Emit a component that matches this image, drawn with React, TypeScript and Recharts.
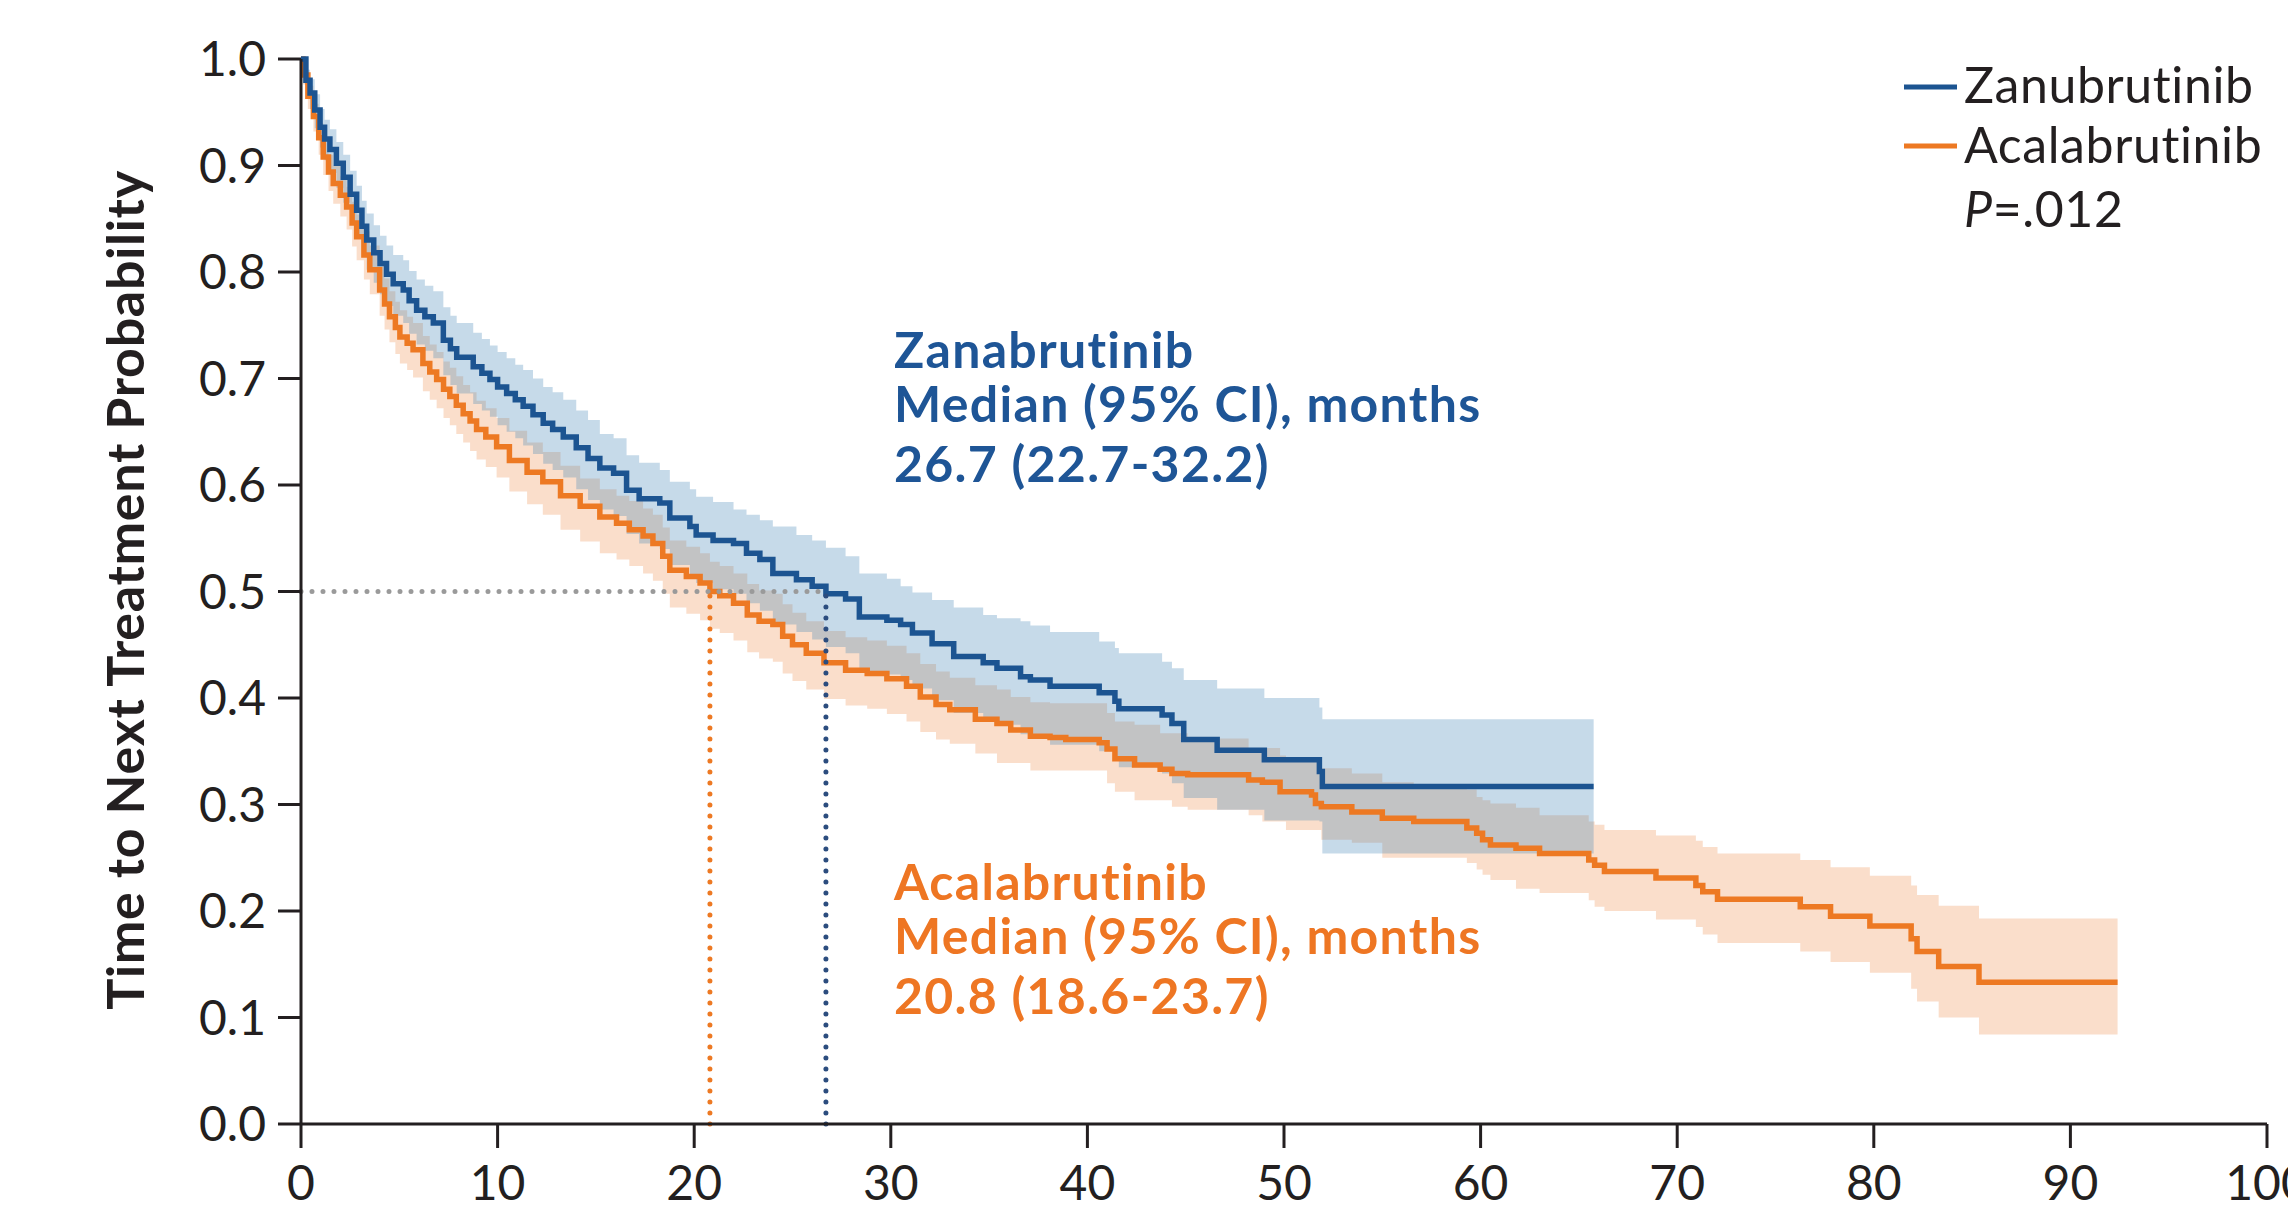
import React from 'react';
import {
  ComposedChart,
  Line,
  Area,
  XAxis,
  YAxis,
  ReferenceLine,
} from 'recharts';

// ---------- Data ----------
const xTicks = [0, 10, 20, 30, 40, 50, 60, 70, 80, 90, 100];
const yTicks = [0, 0.1, 0.2, 0.3, 0.4, 0.5, 0.6, 0.7, 0.8, 0.9, 1.0];

// Zanubrutinib (Kaplan-Meier steps, months)
const zanuTime = [
  0, 0.25, 0.46, 0.7, 0.97, 1.2, 1.47, 1.8, 2.15, 2.5,
  2.83, 3.1, 3.34, 3.7, 4.02, 4.35, 4.69, 5.2, 5.5, 5.88,
  6.3, 6.73, 7.24, 7.6, 7.92, 8.76, 9.2, 9.61, 10.0, 10.46,
  10.9, 11.3, 11.8, 12.32, 12.8, 13.34, 14.0, 14.6, 15.2, 15.9,
  16.56, 17.2, 18.25, 18.76, 19.78, 20.1, 20.96, 22.0, 22.66, 23.34,
  24.0, 25.2, 26.0, 26.7, 27.7, 28.4, 29.8, 30.5, 31.1, 32.1,
  33.2, 34.7, 35.4, 36.6, 37.1, 38.1, 40.6, 41.4, 41.6, 43.8,
  44.3, 44.9, 46.6, 49.0, 51.8, 51.95, 65.75,
];
const zanuSurv = [
  1.0, 0.98, 0.968, 0.952, 0.936, 0.925, 0.915, 0.902, 0.889, 0.873,
  0.858, 0.843, 0.83, 0.818, 0.808, 0.798, 0.789, 0.783, 0.773, 0.764,
  0.758, 0.752, 0.736, 0.728, 0.72, 0.711, 0.705, 0.699, 0.692, 0.686,
  0.68, 0.674, 0.666, 0.658, 0.652, 0.645, 0.635, 0.625, 0.616, 0.611,
  0.595, 0.587, 0.583, 0.569, 0.561, 0.553, 0.548, 0.545, 0.536, 0.53,
  0.517, 0.511, 0.505, 0.498, 0.493, 0.476, 0.473, 0.469, 0.461, 0.451,
  0.439, 0.433, 0.428, 0.42, 0.417, 0.411, 0.405, 0.397, 0.39, 0.384,
  0.376, 0.361, 0.351, 0.342, 0.331, 0.317, 0.317,
];
const zanuLower = [
  1.0, 0.968, 0.953, 0.935, 0.917, 0.905, 0.893, 0.879, 0.865, 0.848,
  0.832, 0.816, 0.802, 0.79, 0.779, 0.768, 0.759, 0.752, 0.742, 0.732,
  0.726, 0.719, 0.703, 0.694, 0.686, 0.676, 0.67, 0.664, 0.656, 0.65,
  0.644, 0.637, 0.629, 0.62, 0.614, 0.607, 0.596, 0.586, 0.577, 0.571,
  0.554, 0.545, 0.54, 0.525, 0.516, 0.508, 0.502, 0.498, 0.489, 0.482,
  0.469, 0.462, 0.455, 0.448, 0.442, 0.425, 0.422, 0.417, 0.409, 0.398,
  0.386, 0.38, 0.375, 0.366, 0.363, 0.356, 0.35, 0.342, 0.335, 0.329,
  0.32, 0.306, 0.295, 0.285, 0.284, 0.254, 0.254,
];
const zanuUpper = [
  1.0, 0.99, 0.981, 0.967, 0.953, 0.943, 0.934, 0.922, 0.91, 0.895,
  0.881, 0.867, 0.855, 0.844, 0.834, 0.825, 0.816, 0.811, 0.801, 0.793,
  0.787, 0.782, 0.767, 0.759, 0.752, 0.743, 0.737, 0.731, 0.725, 0.719,
  0.713, 0.708, 0.7, 0.692, 0.687, 0.68, 0.67, 0.661, 0.648, 0.644,
  0.628, 0.621, 0.614, 0.603, 0.596, 0.589, 0.584, 0.577, 0.572, 0.567,
  0.561, 0.553, 0.548, 0.541, 0.533, 0.517, 0.512, 0.505, 0.499, 0.492,
  0.485, 0.478, 0.475, 0.472, 0.468, 0.462, 0.453, 0.447, 0.442, 0.434,
  0.428, 0.417, 0.409, 0.4, 0.391, 0.38, 0.38,
];

// Acalabrutinib
const acalaTime = [
  0, 0.1, 0.35, 0.63, 0.9, 1.13, 1.4, 1.64, 2.0, 2.32,
  2.6, 2.83, 3.2, 3.5, 4.0, 4.25, 4.5, 4.8, 5.03, 5.4,
  5.7, 6.2, 6.55, 6.9, 7.25, 7.57, 7.9, 8.25, 8.6, 8.93,
  9.4, 9.95, 10.6, 11.5, 12.3, 13.2, 14.2, 15.2, 16.05, 16.7,
  17.4, 17.9, 18.4, 18.76, 19.6, 20.3, 20.8, 21.3, 22.0, 22.7,
  23.3, 24.0, 24.5, 25.0, 25.7, 26.6, 27.7, 28.8, 29.8, 30.8,
  31.5, 32.3, 33.0, 34.3, 35.4, 36.1, 37.1, 38.1, 38.9, 40.6,
  41.0, 41.4, 42.4, 43.7, 44.3, 45.1, 48.2, 48.9, 49.8, 50.1,
  51.4, 51.6, 51.9, 53.45, 55.0, 56.6, 59.3, 59.8, 60.1, 60.5,
  61.8, 63.0, 65.5, 65.8, 66.3, 68.92, 70.95, 71.3, 72.05, 76.26,
  77.8, 79.8, 81.9, 82.2, 83.3, 85.35, 92.4,
];
const acalaSurv = [
  1.0, 0.985, 0.965, 0.946, 0.926, 0.908, 0.894, 0.883, 0.872, 0.861,
  0.846, 0.833, 0.816, 0.802, 0.783, 0.77, 0.758, 0.748, 0.739, 0.733,
  0.727, 0.714, 0.706, 0.699, 0.69, 0.683, 0.675, 0.667, 0.66, 0.652,
  0.645, 0.636, 0.623, 0.612, 0.603, 0.59, 0.58, 0.57, 0.564, 0.558,
  0.552, 0.545, 0.533, 0.52, 0.514, 0.508, 0.5, 0.496, 0.489, 0.478,
  0.472, 0.469, 0.458, 0.45, 0.442, 0.433, 0.426, 0.423, 0.418, 0.411,
  0.401, 0.394, 0.389, 0.38, 0.376, 0.37, 0.364, 0.363, 0.361, 0.358,
  0.352, 0.343, 0.337, 0.333, 0.329, 0.328, 0.323, 0.321, 0.312, 0.312,
  0.309, 0.301, 0.298, 0.293, 0.287, 0.284, 0.278, 0.273, 0.267, 0.262,
  0.259, 0.254, 0.248, 0.243, 0.237, 0.231, 0.224, 0.218, 0.211, 0.204,
  0.195, 0.186, 0.174, 0.162, 0.148, 0.133, 0.133,
];
const acalaLower = [
  1.0, 0.976, 0.953, 0.932, 0.91, 0.891, 0.876, 0.864, 0.852, 0.84,
  0.824, 0.811, 0.793, 0.779, 0.759, 0.746, 0.734, 0.723, 0.714, 0.708,
  0.701, 0.688, 0.68, 0.672, 0.663, 0.656, 0.648, 0.64, 0.632, 0.624,
  0.617, 0.607, 0.594, 0.582, 0.572, 0.558, 0.547, 0.536, 0.53, 0.524,
  0.517, 0.51, 0.498, 0.485, 0.479, 0.473, 0.465, 0.461, 0.454, 0.443,
  0.437, 0.434, 0.423, 0.416, 0.408, 0.399, 0.393, 0.39, 0.385, 0.378,
  0.368, 0.361, 0.357, 0.348, 0.339, 0.339, 0.332, 0.332, 0.332, 0.332,
  0.32, 0.312, 0.304, 0.304, 0.298, 0.295, 0.29, 0.284, 0.284, 0.276,
  0.276, 0.276, 0.267, 0.264, 0.25, 0.25, 0.245, 0.239, 0.234, 0.229,
  0.221, 0.217, 0.21, 0.204, 0.2, 0.192, 0.185, 0.178, 0.17, 0.162,
  0.152, 0.142, 0.127, 0.115, 0.1, 0.084, 0.084,
];
const acalaUpper = [
  1.0, 0.992, 0.975, 0.958, 0.94, 0.923, 0.91, 0.9, 0.89, 0.88,
  0.866, 0.854, 0.838, 0.825, 0.806, 0.794, 0.782, 0.772, 0.764, 0.758,
  0.752, 0.74, 0.732, 0.725, 0.716, 0.71, 0.702, 0.694, 0.687, 0.679,
  0.672, 0.663, 0.651, 0.64, 0.631, 0.618, 0.606, 0.596, 0.59, 0.585,
  0.578, 0.572, 0.56, 0.548, 0.542, 0.536, 0.528, 0.524, 0.517, 0.507,
  0.501, 0.498, 0.488, 0.48, 0.472, 0.463, 0.457, 0.454, 0.449, 0.442,
  0.432, 0.425, 0.419, 0.412, 0.408, 0.401, 0.396, 0.395, 0.395, 0.395,
  0.386, 0.378, 0.375, 0.367, 0.367, 0.362, 0.353, 0.353, 0.346, 0.343,
  0.343, 0.343, 0.334, 0.329, 0.321, 0.318, 0.314, 0.307, 0.304, 0.301,
  0.297, 0.29, 0.284, 0.281, 0.276, 0.271, 0.266, 0.26, 0.254, 0.248,
  0.241, 0.233, 0.224, 0.215, 0.205, 0.193, 0.193,
];

// Medians
const medianZanu = 26.7;
const medianAcala = 20.8;
const medianLevel = 0.5;

// ---------- Build series tables ----------
const zanuData = zanuTime.map((t, i) => ({
  t,
  s: zanuSurv[i],
  band: [zanuLower[i], zanuUpper[i]],
}));
const acalaData = acalaTime.map((t, i) => ({
  t,
  s: acalaSurv[i],
  band: [acalaLower[i], acalaUpper[i]],
}));

// ---------- Styles ----------
const FONT = 'Lato, "Open Sans", sans-serif';
const INK = '#231F20';
const BLUE = '#1C5491';
const ORANGE = '#ED7923';
const BLUE_TEXT = '#1E5596';
const ORANGE_TEXT = '#EE7623';

const W = 2288;
const H = 1216;

export default function App() {
  return (
    <div style={{ position: 'absolute', left: 0, top: 0, width: W, height: H, background: '#fff' }}>
      <ComposedChart
        width={W}
        height={H}
        margin={{ top: 59, right: 21, bottom: 12, left: 181 }}
      >
        <XAxis
          type="number"
          dataKey="t"
          domain={[0, 100]}
          ticks={xTicks}
          allowDataOverflow
          height={80}
          tickSize={24}
          tickMargin={18}
          axisLine={{ stroke: INK, strokeWidth: 3 }}
          tickLine={{ stroke: INK, strokeWidth: 3 }}
          tick={{ fill: INK, fontSize: 48, fontFamily: FONT }}
          interval={0}
        />
        <YAxis
          type="number"
          domain={[0, 1]}
          ticks={yTicks}
          width={120}
          tickSize={23}
          tickMargin={12}
          tickFormatter={(v: number) => v.toFixed(1)}
          axisLine={{ stroke: INK, strokeWidth: 3 }}
          tickLine={{ stroke: INK, strokeWidth: 3 }}
          tick={{ fill: INK, fontSize: 48, fontFamily: FONT }}
          interval={0}
        />

        <Area
          data={acalaData}
          dataKey="band"
          type="stepAfter"
          stroke="none"
          fill="rgb(237,125,49)"
          fillOpacity={0.25}
          isAnimationActive={false}
          activeDot={false}
        />
        <Line
          data={acalaData}
          dataKey="s"
          type="stepAfter"
          stroke={ORANGE}
          strokeWidth={5.5}
          dot={false}
          activeDot={false}
          isAnimationActive={false}
        />
        <Area
          data={zanuData}
          dataKey="band"
          type="stepAfter"
          stroke="none"
          fill="rgb(67,133,182)"
          fillOpacity={0.3}
          isAnimationActive={false}
          activeDot={false}
        />
        <Line
          data={zanuData}
          dataKey="s"
          type="stepAfter"
          stroke={BLUE}
          strokeWidth={5.5}
          dot={false}
          activeDot={false}
          isAnimationActive={false}
        />

        <ReferenceLine
          segment={[{ x: 0, y: medianLevel }, { x: medianZanu, y: medianLevel }]}
          stroke="#9A9A9A"
          strokeWidth={5}
          strokeDasharray="0 11"
          strokeLinecap="round"
        />
        <ReferenceLine
          segment={[{ x: medianAcala, y: 0 }, { x: medianAcala, y: medianLevel }]}
          stroke={ORANGE}
          strokeWidth={5}
          strokeDasharray="0 11"
          strokeLinecap="round"
        />
        <ReferenceLine
          segment={[{ x: medianZanu, y: 0 }, { x: medianZanu, y: medianLevel }]}
          stroke="#2B4C7E"
          strokeWidth={5}
          strokeDasharray="0 11"
          strokeLinecap="round"
        />
      </ComposedChart>

      <svg
        width={W}
        height={H}
        style={{ position: 'absolute', left: 0, top: 0, pointerEvents: 'none' }}
      >
        <text
          transform="translate(144,590) rotate(-90)"
          textAnchor="middle"
          fontFamily={FONT}
          fontWeight={700}
          fontSize={52}
          letterSpacing={0.7}
          fill={INK}
        >
          Time to Next Treatment Probability
        </text>

        {/* Legend */}
        <line x1={1904} y1={87} x2={1957} y2={87} stroke={BLUE} strokeWidth={5} />
        <line x1={1904} y1={146} x2={1957} y2={146} stroke={ORANGE} strokeWidth={5} />
        <text fontFamily={FONT} fontSize={50} letterSpacing={0.6} fill={INK}>
          <tspan x={1964} y={103}>Zanubrutinib</tspan>
          <tspan x={1964} y={163}>Acalabrutinib</tspan>
          <tspan x={1964} y={227} fontStyle="italic">P</tspan>
          <tspan>=.012</tspan>
        </text>

        {/* Zanubrutinib annotation */}
        <text fontFamily={FONT} fontWeight={700} fontSize={50} letterSpacing={1.3} fill={BLUE_TEXT}>
          <tspan x={894} y={368}>Zanabrutinib</tspan>
          <tspan x={894} y={422}>Median (95% CI), months</tspan>
          <tspan x={894} y={482}>26.7 (22.7-32.2)</tspan>
        </text>

        {/* Acalabrutinib annotation */}
        <text fontFamily={FONT} fontWeight={700} fontSize={50} letterSpacing={1.3} fill={ORANGE_TEXT}>
          <tspan x={894} y={900}>Acalabrutinib</tspan>
          <tspan x={894} y={954}>Median (95% CI), months</tspan>
          <tspan x={894} y={1014}>20.8 (18.6-23.7)</tspan>
        </text>
      </svg>
    </div>
  );
}
